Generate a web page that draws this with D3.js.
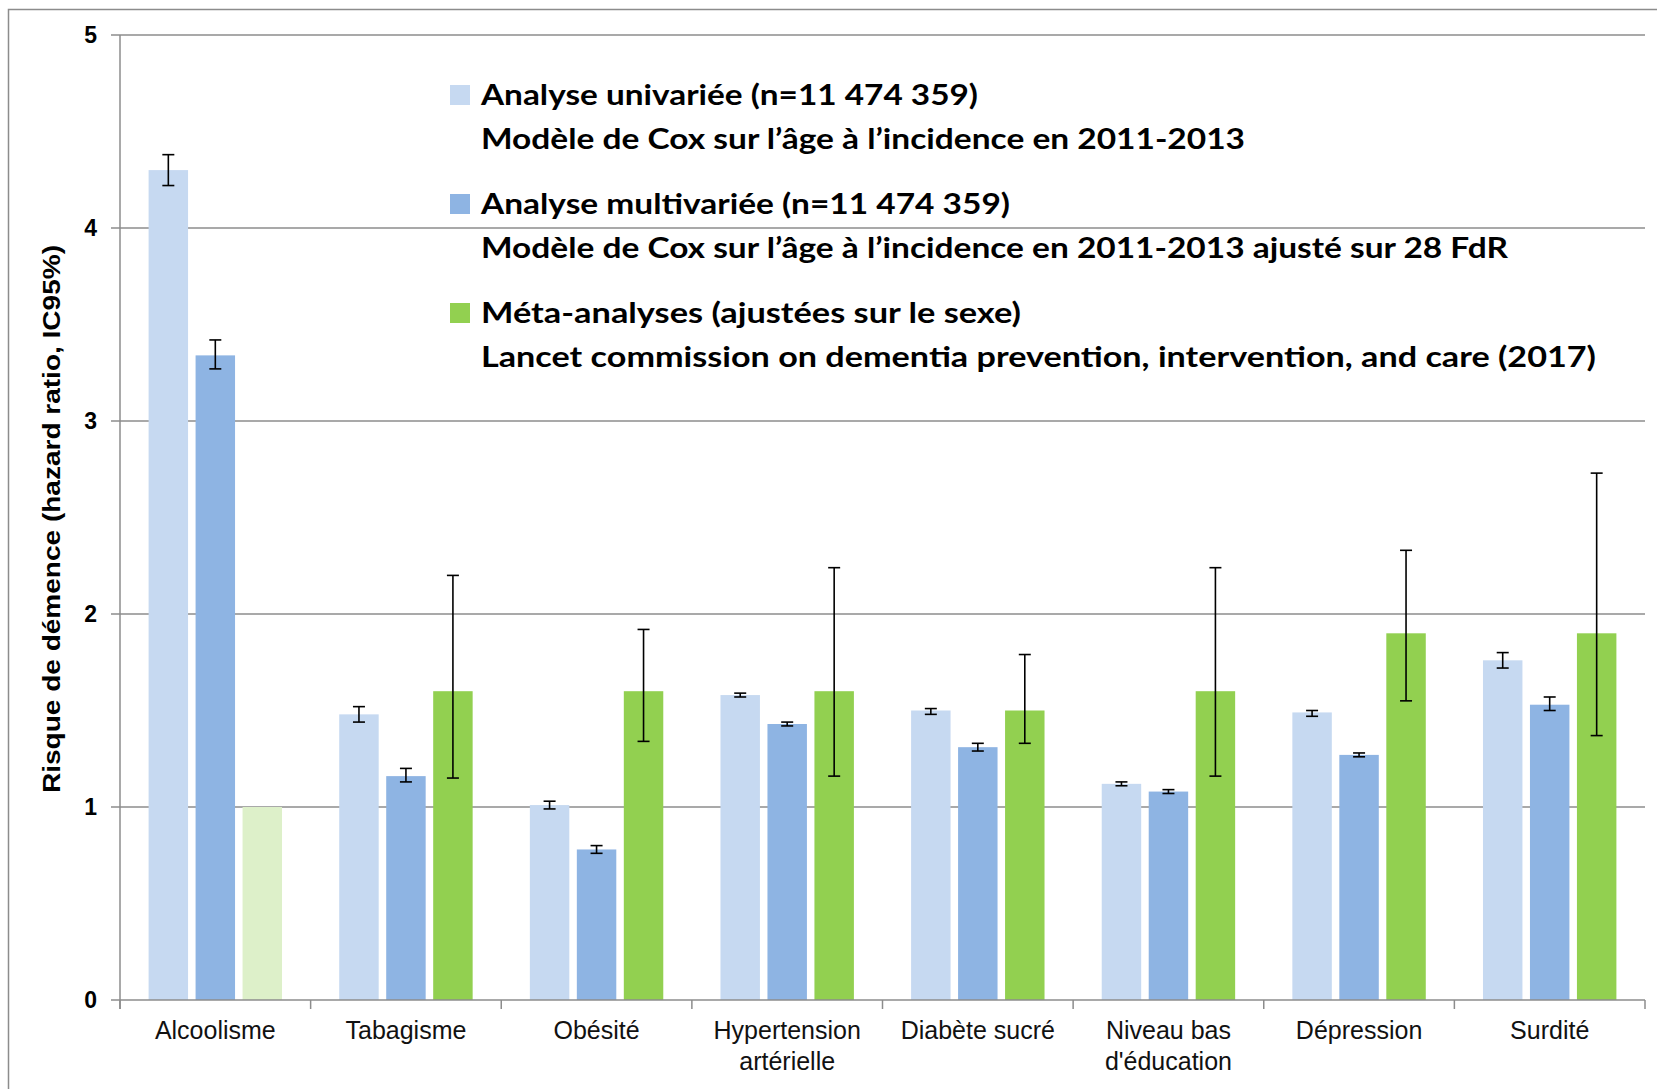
<!DOCTYPE html>
<html>
<head>
<meta charset="utf-8">
<script src="https://cdn.jsdelivr.net/npm/d3@7"></script>
<style>
  body { margin: 0; background: #fff; }
  svg { display: block; }
</style>
</head>
<body>
<div id="chart"></div>
<script>
// categories + values
var categories = ["Alcoolisme", "Tabagisme", "Obésité", "Hypertension|artérielle", "Diabète sucré", "Niveau bas|d'éducation", "Dépression", "Surdité"];
var seriesKeys = ["uni", "multi", "meta"];

var uniHR   = [4.30, 1.48, 1.01, 1.58, 1.50, 1.12, 1.49, 1.76];
var uniLow  = [4.22, 1.44, 0.99, 1.57, 1.48, 1.11, 1.47, 1.72];
var uniHigh = [4.38, 1.52, 1.03, 1.59, 1.51, 1.13, 1.50, 1.80];

var multiHR   = [3.34, 1.16, 0.78, 1.43, 1.31, 1.08, 1.27, 1.53];
var multiLow  = [3.27, 1.13, 0.76, 1.42, 1.29, 1.07, 1.26, 1.50];
var multiHigh = [3.42, 1.20, 0.80, 1.44, 1.33, 1.09, 1.28, 1.57];

var metaHR   = [1.0, 1.6, 1.6, 1.6, 1.5, 1.6, 1.9, 1.9];
var metaLow  = [null, 1.15, 1.34, 1.16, 1.33, 1.16, 1.55, 1.37];
var metaHigh = [null, 2.20, 1.92, 2.24, 1.79, 2.24, 2.33, 2.73];

var yTicks = [0, 1, 2, 3, 4, 5];

var legendLines = [
  ["Analyse univariée (n=11 474 359)", "Modèle de Cox sur l\u2019âge à l\u2019incidence en 2011-2013"],
  ["Analyse multivariée (n=11 474 359)", "Modèle de Cox sur l\u2019âge à l\u2019incidence en 2011-2013 ajusté sur 28 FdR"],
  ["Méta-analyses (ajustées sur le sexe)", "Lancet commission on dementia prevention, intervention, and care (2017)"]
];
var legendWidths = [[497, 764], [529, 1027], [540, 1115]];

var colors = {uni: "#c6d9f1", multi: "#8eb4e3", meta: "#92d050"};
var fadedMeta = "#ddf0c9";

var width = 1657, height = 1089;
var margin = {left: 120, right: 12, top: 35, bottom: 89};

var svg = d3.select("#chart").append("svg")
    .attr("width", width)
    .attr("height", height);

// outer frame (only top/left visible in the original)
svg.append("path")
    .attr("d", "M8.5," + height + "V9.5H" + width)
    .attr("fill", "none")
    .attr("stroke", "#8c8c8c")
    .attr("stroke-width", 1.5);

var x0 = d3.scaleBand()
    .domain(categories)
    .range([margin.left, width - margin.right])
    .padding(0);

var x1 = d3.scaleBand()
    .domain(seriesKeys)
    .range([28.6, x0.bandwidth() - 28.6])
    .paddingInner(0.16);

var y = d3.scaleLinear()
    .domain([0, 5])
    .range([height - margin.bottom, margin.top]);

// gridlines
svg.append("g")
    .selectAll("line")
    .data(yTicks.slice(1))
    .enter().append("line")
    .attr("x1", margin.left - 9)
    .attr("x2", width - margin.right)
    .attr("y1", d => y(d))
    .attr("y2", d => y(d))
    .attr("stroke", "#8c8c8c")
    .attr("stroke-width", 1.5);

// y tick labels
svg.append("g")
    .selectAll("text")
    .data(yTicks)
    .enter().append("text")
    .attr("x", 97)
    .attr("y", d => y(d))
    .attr("dy", "0.36em")
    .attr("text-anchor", "end")
    .style("font-family", "Liberation Sans, Arial, sans-serif")
    .style("font-weight", "bold")
    .style("font-size", "23px")
    .text(d => d);

// build rows for the bars
var rows = categories.map(function(c, i) {
  return [
    {cat: c, key: "uni", v: uniHR[i], lo: uniLow[i], hi: uniHigh[i]},
    {cat: c, key: "multi", v: multiHR[i], lo: multiLow[i], hi: multiHigh[i]},
    {cat: c, key: "meta", v: metaHR[i], lo: metaLow[i], hi: metaHigh[i]}
  ];
});

var groups = svg.append("g")
    .selectAll("g")
    .data(rows)
    .enter().append("g")
    .attr("transform", d => "translate(" + x0(d[0].cat) + ",0)");

groups.selectAll("rect")
    .data(d => d)
    .enter().append("rect")
    .attr("x", d => x1(d.key))
    .attr("width", x1.bandwidth())
    .attr("y", d => y(d.v))
    .attr("height", d => y(0) - y(d.v))
    .attr("fill", d => (d.key == "meta" && d.lo == null) ? fadedMeta : colors[d.key]);

// error bars
var eb = groups.selectAll("g.err")
    .data(d => d.filter(e => e.lo != null))
    .enter().append("g")
    .attr("class", "err")
    .attr("stroke", "#000")
    .attr("stroke-width", 1.6);

eb.append("line")
    .attr("x1", d => x1(d.key) + x1.bandwidth() / 2)
    .attr("x2", d => x1(d.key) + x1.bandwidth() / 2)
    .attr("y1", d => y(d.lo))
    .attr("y2", d => y(d.hi));

eb.selectAll("line.cap")
    .data(d => [{d: d, v: d.lo}, {d: d, v: d.hi}])
    .enter().append("line")
    .attr("class", "cap")
    .attr("x1", c => x1(c.d.key) + x1.bandwidth() / 2 - 6)
    .attr("x2", c => x1(c.d.key) + x1.bandwidth() / 2 + 6)
    .attr("y1", c => y(c.v))
    .attr("y2", c => y(c.v));

// axes lines
svg.append("line")
    .attr("x1", margin.left).attr("x2", margin.left)
    .attr("y1", y(5)).attr("y2", y(0) + 9)
    .attr("stroke", "#8c8c8c").attr("stroke-width", 1.5);

svg.append("line")
    .attr("x1", margin.left - 9).attr("x2", width - margin.right)
    .attr("y1", y(0)).attr("y2", y(0))
    .attr("stroke", "#8c8c8c").attr("stroke-width", 1.5);

svg.append("g")
    .selectAll("line")
    .data(categories.concat(["end"]))
    .enter().append("line")
    .attr("x1", d => d == "end" ? width - margin.right : x0(d))
    .attr("x2", d => d == "end" ? width - margin.right : x0(d))
    .attr("y1", y(0))
    .attr("y2", y(0) + 9)
    .attr("stroke", "#8c8c8c").attr("stroke-width", 1.5);

// category labels
var xl = svg.append("g")
    .selectAll("text")
    .data(categories)
    .enter().append("text")
    .attr("x", d => x0(d) + x0.bandwidth() / 2)
    .attr("y", 1039)
    .attr("text-anchor", "middle")
    .style("font-family", "Liberation Sans, Arial, sans-serif")
    .style("font-size", "25px")
    .attr("fill", "#111");

xl.selectAll("tspan")
    .data(d => d.split("|").map(s => ({s: s, c: d})))
    .enter().append("tspan")
    .attr("x", d => x0(d.c) + x0.bandwidth() / 2)
    .attr("dy", (d, i) => i == 0 ? 0 : 31)
    .text(d => d.s);

// y axis title
svg.append("text")
    .attr("transform", "translate(60,519) rotate(-90)")
    .attr("text-anchor", "middle")
    .attr("textLength", 548)
    .attr("lengthAdjust", "spacingAndGlyphs")
    .style("font-family", "Liberation Sans, Arial, sans-serif")
    .style("font-weight", "bold")
    .style("font-size", "24px")
    .text("Risque de démence (hazard ratio, IC95%)");

// legend
var legend = svg.append("g")
    .selectAll("g")
    .data(seriesKeys)
    .enter().append("g")
    .attr("transform", (d, i) => "translate(450," + (85 + i * 109) + ")");

legend.append("rect")
    .attr("width", 20)
    .attr("height", 20)
    .attr("fill", d => colors[d]);

legend.each(function(d, i) {
  var g = d3.select(this);
  legendLines[i].forEach(function(txt, j) {
    g.append("text")
      .attr("x", 31)
      .attr("y", 10 + j * 44)
      .attr("dy", "0.36em")
      .attr("textLength", legendWidths[i][j])
      .attr("lengthAdjust", "spacingAndGlyphs")
      .style("font-family", "Lato, sans-serif")
      .style("font-weight", "bold")
      .style("font-size", "28px")
      .text(txt);
  });
});
</script>
</body>
</html>
